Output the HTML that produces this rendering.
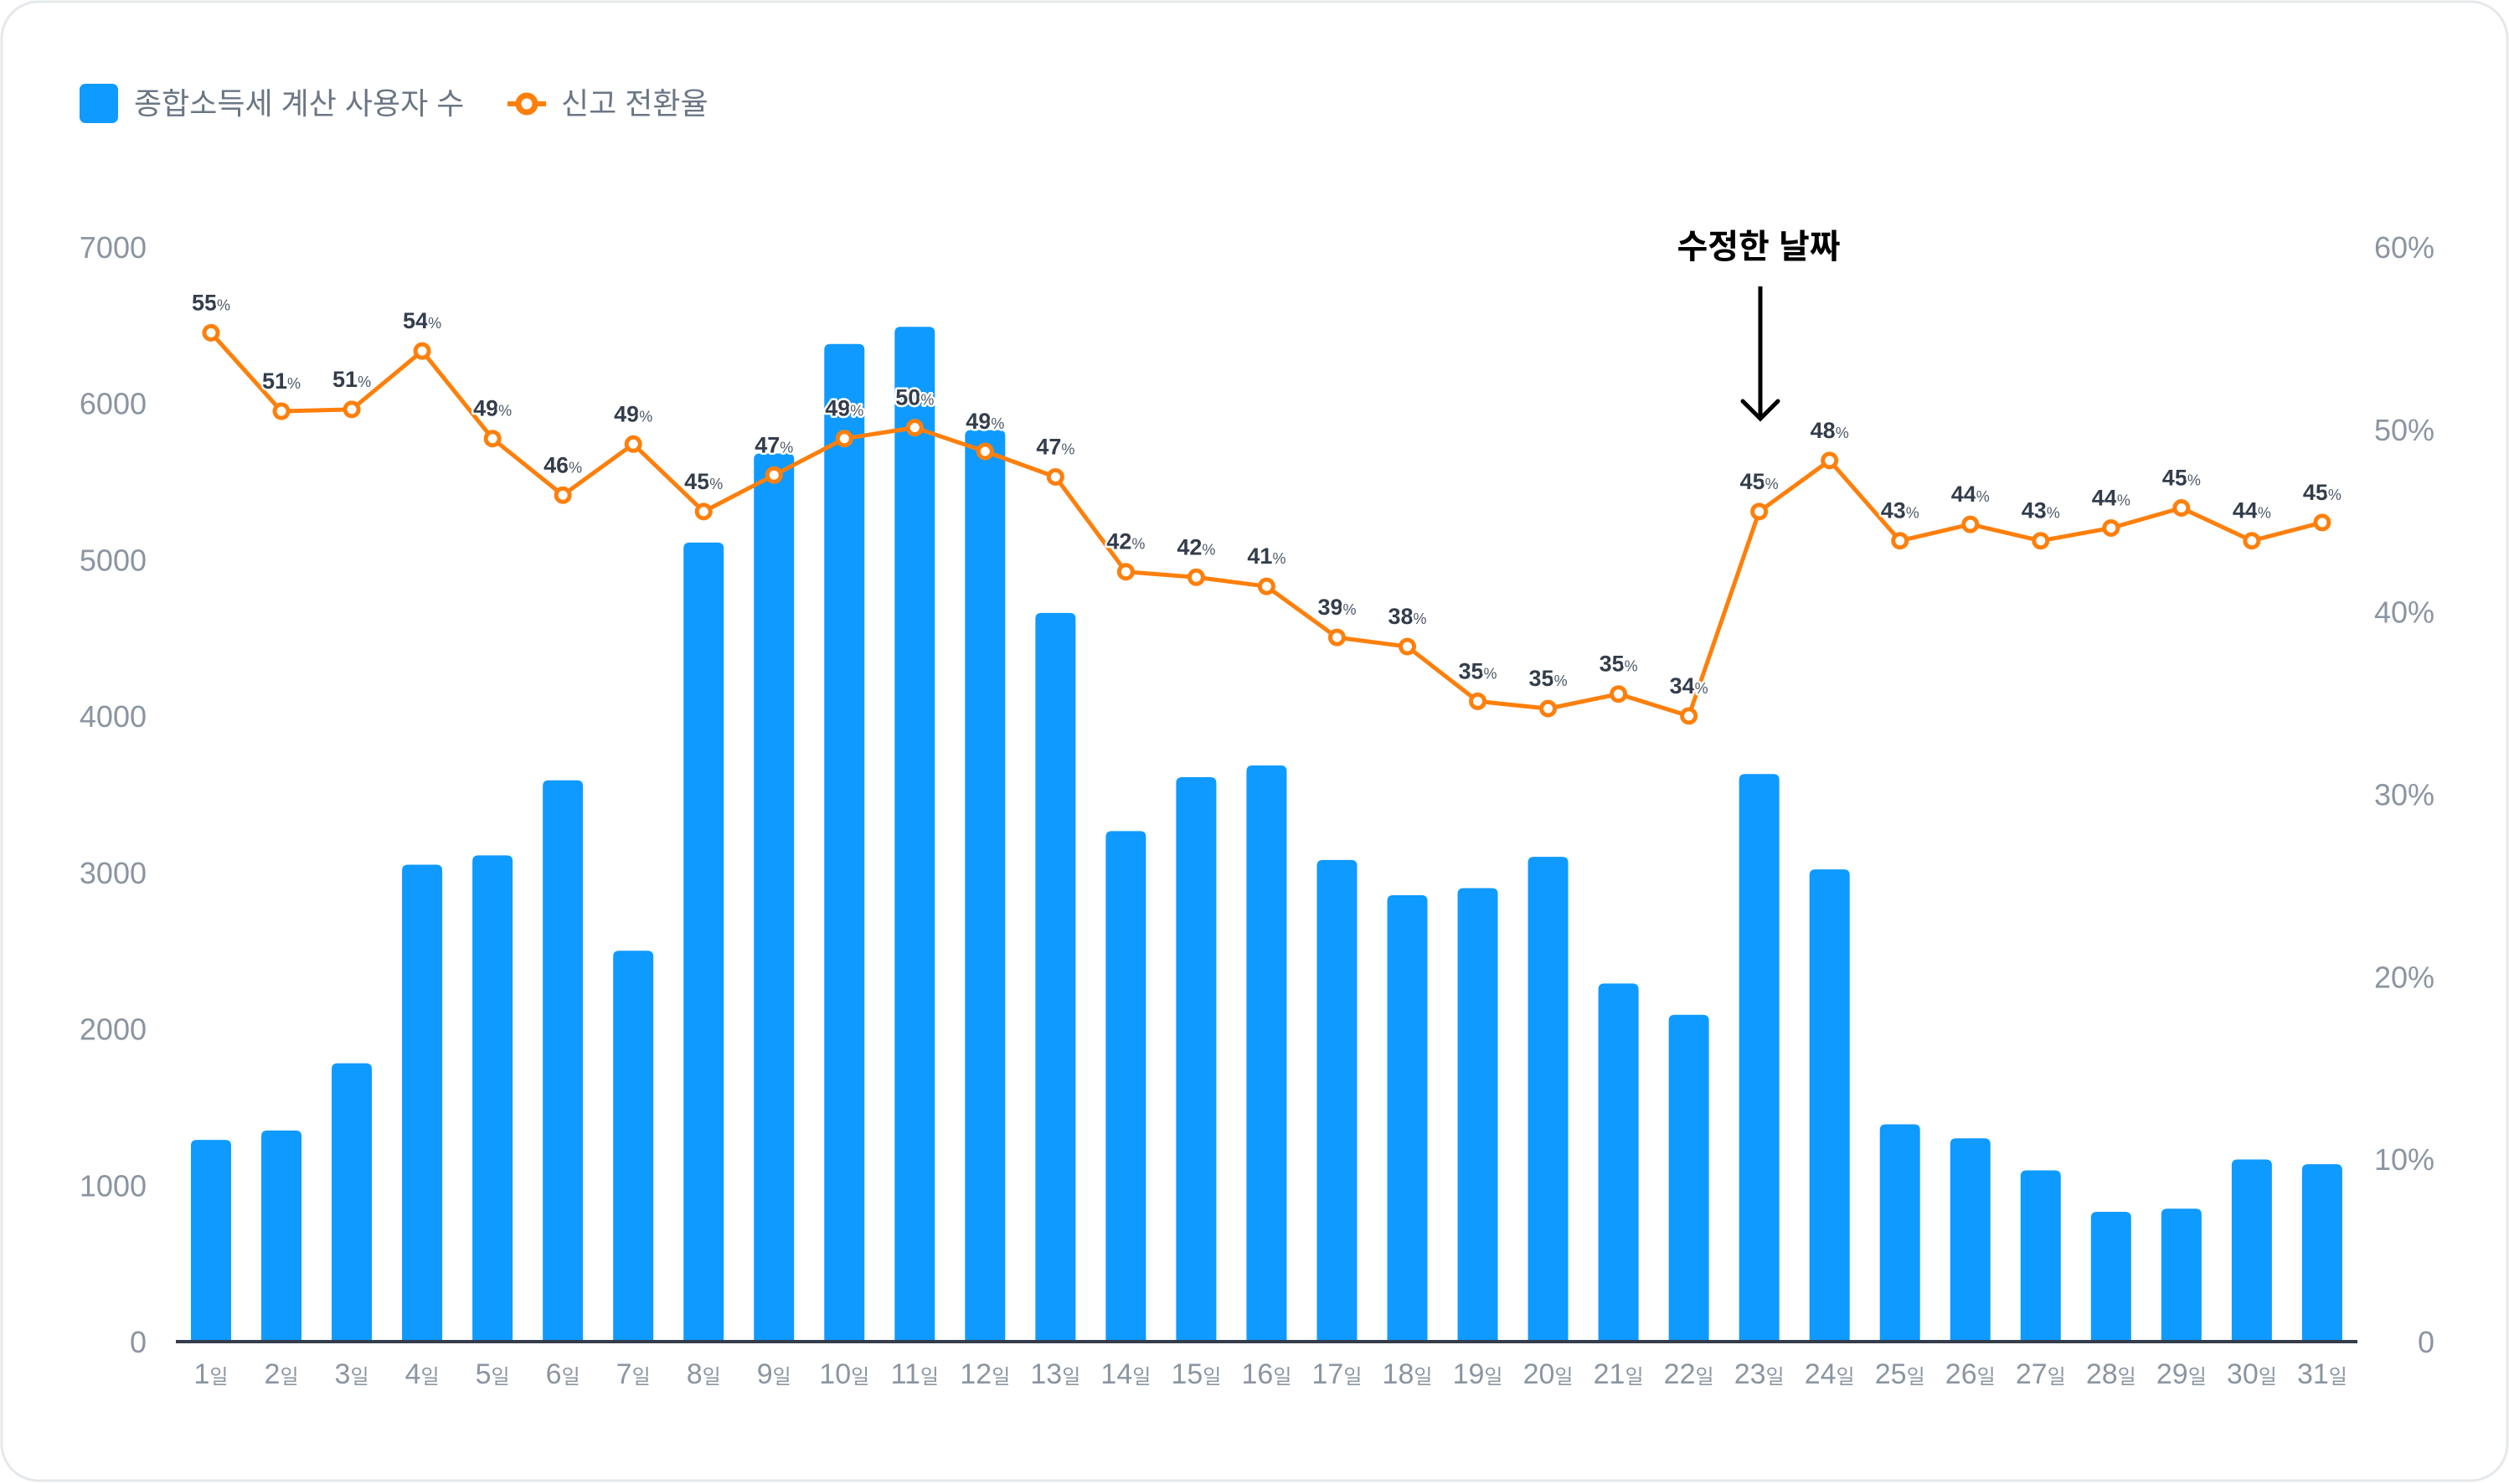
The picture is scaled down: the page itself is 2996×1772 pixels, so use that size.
<!DOCTYPE html>
<html><head><meta charset="utf-8">
<style>
html,body{margin:0;padding:0;background:#fff;}
svg{display:block;font-family:"Liberation Sans","Noto Sans CJK KR",sans-serif;}
</style></head>
<body>
<svg id="chart" width="2996" height="1772" viewBox="0 0 2996 1772" xmlns="http://www.w3.org/2000/svg">
  <rect x="2" y="2" width="2992" height="1766" rx="44" fill="#fff" stroke="#e5e8eb" stroke-width="3"/>
  <g>
    <g>
      <rect x="95" y="100" width="46" height="47" rx="7" fill="#0f9aff"/>
      <text x="160" y="136" font-size="36" fill="#6b7684">종합소득세 계산 사용자 수</text>
    </g>
    <g>
      <line x1="606" y1="124" x2="652" y2="124" stroke="#fe7f0b" stroke-width="6"/>
      <circle cx="629" cy="124" r="10" fill="#fff" stroke="#fe7f0b" stroke-width="7"/>
      <text x="670" y="136" font-size="36" fill="#6b7684">신고 전환율</text>
    </g>
  </g>
  <g id="yleft"></g>
  <g id="yright"></g>
  <g id="bars"></g>
  <line x1="210" y1="1602" x2="2815" y2="1602" stroke="#333d4b" stroke-width="4"/>
  <g id="xlabels"></g>
  <g id="line"></g>
  <g>
    <text x="2100" y="308" font-size="40" font-weight="bold" text-anchor="middle" fill="#000">수정한 날짜</text>
    <line x1="2102" y1="342" x2="2102" y2="500" stroke="#000" stroke-width="5"/>
    <polyline points="2081,479 2102,500 2123,479" fill="none" stroke="#000" stroke-width="5" stroke-linecap="round"/>
  </g>
</svg>
<script>
const days = ["1","2","3","4","5","6","7","8","9","10","11","12","13","14","15","16","17","18","19","20","21","22","23","24","25","26","27","28","29","30","31"];
const users = [1290,1350,1780,3050,3110,3590,2500,5110,5680,6380,6490,5830,4660,3265,3610,3685,3080,2855,2900,3100,2290,2090,3630,3020,1390,1300,1095,830,850,1165,1135];
const rates = [55.3,51.0,51.1,54.3,49.5,46.4,49.2,45.5,47.5,49.5,50.1,48.8,47.4,42.2,41.9,41.4,38.6,38.1,35.1,34.7,35.5,34.3,45.5,48.3,43.9,44.8,43.9,44.6,45.7,43.9,44.9];
const rateLabels = [55,51,51,54,49,46,49,45,47,49,50,49,47,42,42,41,39,38,35,35,35,34,45,48,43,44,43,44,45,44,45];
const leftTicks = [0,1000,2000,3000,4000,5000,6000,7000];
const rightTicks = [0,10,20,30,40,50,60];

const NS = "http://www.w3.org/2000/svg";
const Y0 = 1602, YT = 295;
function xPos(i){ return 252 + i*84.03; }
function yLeft(v){ return Y0 - (v/7000)*(Y0-YT); }
function yRight(v){ return Y0 - (v/60)*(Y0-YT); }
function mk(tag, attrs, parent){
  const e = document.createElementNS(NS, tag);
  for (const k in attrs) e.setAttribute(k, attrs[k]);
  parent.appendChild(e);
  return e;
}
const gl = document.getElementById('yleft');
leftTicks.forEach(v=>{
  const t = mk('text',{x:175,y:yLeft(v)+13,'font-size':36,fill:'#8b95a1','text-anchor':'end'},gl);
  
  
  t.textContent = v;
});
const gr = document.getElementById('yright');
rightTicks.forEach(v=>{
  const t = mk('text',{x:2907,y:yRight(v)+13,'font-size':36,fill:'#8b95a1','text-anchor':'end'},gr);
  
  
  t.textContent = v===0 ? '0' : v+'%';
});
const gb = document.getElementById('bars');
const bw = 48;
users.forEach((v,i)=>{
  const x = xPos(i)-bw/2, y = yLeft(v), h = Y0-y, r = 7;
  const p = mk('path',{d:`M${x},${Y0} L${x},${y+r} Q${x},${y} ${x+r},${y} L${x+bw-r},${y} Q${x+bw},${y} ${x+bw},${y+r} L${x+bw},${Y0} Z`,fill:'#0f9aff'},gb);
  
  
});
const gx = document.getElementById('xlabels');
days.forEach((d,i)=>{
  const t = mk('text',{x:xPos(i),y:1652,'font-size':34,fill:'#8b95a1','text-anchor':'middle'},gx);
  
  
  const a = mk('tspan',{},t); a.textContent = d;
  const b = mk('tspan',{'font-size':24},t); b.textContent = '일';
});
const gline = document.getElementById('line');
const pts = rates.map((v,i)=>xPos(i)+','+yRight(v)).join(' ');
const pl = mk('polyline',{points:pts,fill:'none',stroke:'#fe7f0b','stroke-width':5,'stroke-linejoin':'round'},gline);


rates.forEach((v,i)=>{
  const c = mk('circle',{cx:xPos(i),cy:yRight(v),r:8,fill:'#fff',stroke:'#fe7f0b','stroke-width':5},gline);
  
  
});
rates.forEach((v,i)=>{
  const t = mk('text',{x:xPos(i),y:yRight(v)-27,'font-size':27,'font-weight':'bold',fill:'#333d4b','text-anchor':'middle',stroke:'#fff','stroke-width':5,'paint-order':'stroke','stroke-linejoin':'round'},gline);
  
  
  const a = mk('tspan',{},t); a.textContent = rateLabels[i];
  const b = mk('tspan',{'font-size':18,'font-weight':'normal',fill:'#4e5968'},t); b.textContent = '%';
});
</script>
</body></html>
